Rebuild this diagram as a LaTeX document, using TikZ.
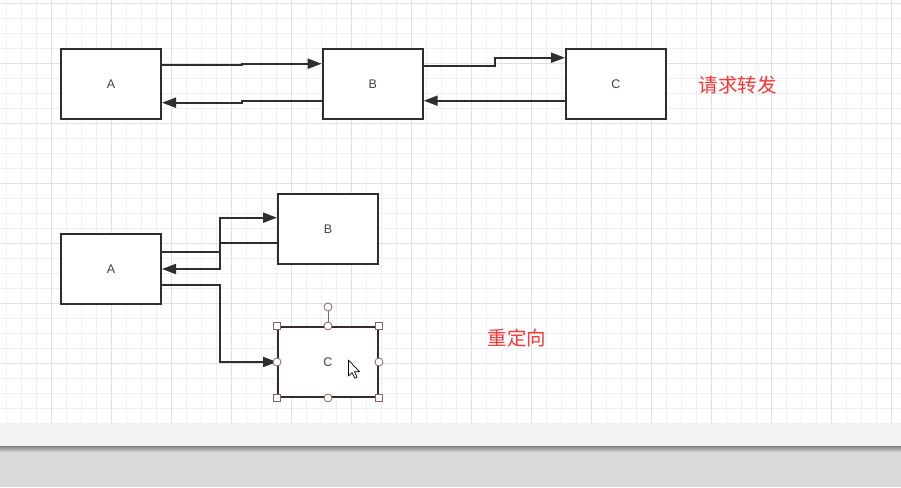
\documentclass[tikz,border=0pt]{standalone}
\usepackage{fontspec}
\setmainfont{Liberation Sans}
\newfontfamily\cjk{Noto Sans CJK SC}
\usetikzlibrary{arrows.meta}
\definecolor{gridminor}{HTML}{EFEFEF}
\definecolor{gridmajor}{HTML}{E0E0E0}
\definecolor{boxline}{HTML}{2E2E2E}
\definecolor{selline}{HTML}{3A2A2A}
\definecolor{handle}{HTML}{8A6464}
\definecolor{note}{HTML}{FF3333}
\definecolor{footer}{HTML}{D9D9DC}
\begin{document}
\begin{tikzpicture}[x=1pt,y=-1pt]
        \tikzstyle{server}=[rectangle,line width=2pt,draw=boxline,fill=white,minimum width=100pt,minimum height=70pt,inner sep=0pt,font=\fontsize{12.5}{14}\selectfont,text=boxline!90]
        \tikzstyle{link}=[draw=boxline,line width=1.9pt,-{Triangle[length=14pt,width=10pt]}]
        \tikzstyle{sq}=[rectangle,draw=handle,fill=white,line width=0.8pt,minimum size=6.5pt,inner sep=0pt]
        \tikzstyle{dot}=[circle,draw=handle,fill=white,line width=0.8pt,minimum size=8pt,inner sep=0pt]
        \tikzstyle{note}=[text=note,font=\cjk\fontsize{19.5}{22}\selectfont]
       \useasboundingbox (0,0) rectangle (901,487);
       \fill[white] (0,0) rectangle (901,423);
       \foreach \k in {0,...,59} \draw[gridminor,line width=0.8pt] (6.7+15*\k,0) -- (6.7+15*\k,423);
       \foreach \k in {1,...,28} \draw[gridminor,line width=0.8pt] (0,3.3+15*\k) -- (901,3.3+15*\k);
       \foreach \k in {0,...,14} \draw[gridmajor,line width=0.8pt] (51.7+60*\k,0) -- (51.7+60*\k,423);
       \foreach \k in {0,...,7} \draw[gridmajor,line width=0.8pt] (0,3.3+60*\k) -- (901,3.3+60*\k);
       \fill[black!5] (0,423) rectangle (901,446);
       \shade[top color=black!50,bottom color=footer] (0,446) rectangle (901,452);
       \fill[footer] (0,452) rectangle (901,487);
       \begin{scope}
         \node [server] (a) at (111,84) {A};
         \node [server] (b) at (372.7,84) {B};
         \node [server] (c) at (616,84) {C};
         \node [note] (fwd) at (737.5,85) {请求转发};
         \draw[link] ([yshift=19.3pt]a.east) -- (242,64.7) -- (242,63.7) -- ([yshift=20.3pt]b.west);
         \draw[link] ([yshift=-17pt]b.west) -- (242,101) -- (242,102.7) -- ([yshift=-18.7pt]a.east);
         \draw[link] ([yshift=18.3pt]b.east) -- (495,65.7) -- (495,57.7) -- ([yshift=26.3pt]c.west);
         \draw[link] ([yshift=-16.7pt]c.west) -- ([yshift=-16.7pt]b.east);
       \end{scope}
       \begin{scope}
         \node [server] (a2) at (111,269) {A};
         \node [server] (b2) at (328,229) {B};
         \node [server,draw=selline] (c2) at (328,362) {C};
         \node [note] (redir) at (517,338.5) {重定向};
         \draw[link] ([yshift=17.3pt]a2.east) -- (220,251.7) -- (220,217.7) -- ([yshift=11.3pt]b2.west);
         \draw[link] ([yshift=-13.7pt]b2.west) -- (220,242.7) -- (220,269) -- (a2.east);
         \draw[link] ([yshift=-16pt]a2.east) -- (220,285) -- (220,362) -- (c2.west);
         \node [dot] (rot) at (328,307) {};
         \draw[handle,line width=0.8pt] (rot) -- (c2.north);
         \foreach \p in {north west,north east,south west,south east} \node [sq] at (c2.\p) {};
         \foreach \p in {north,south,east,west} \node [dot] at (c2.\p) {};
         \draw[black,fill=white,line width=0.7pt,line join=round] (348.5,360) -- ++(0,16) -- ++(3.6,-3.4) -- ++(2.7,5.7) -- ++(2.3,-1) -- ++(-2.6,-5.6) -- ++(5,0) -- cycle;
       \end{scope}
      \end{tikzpicture}
\end{document}
